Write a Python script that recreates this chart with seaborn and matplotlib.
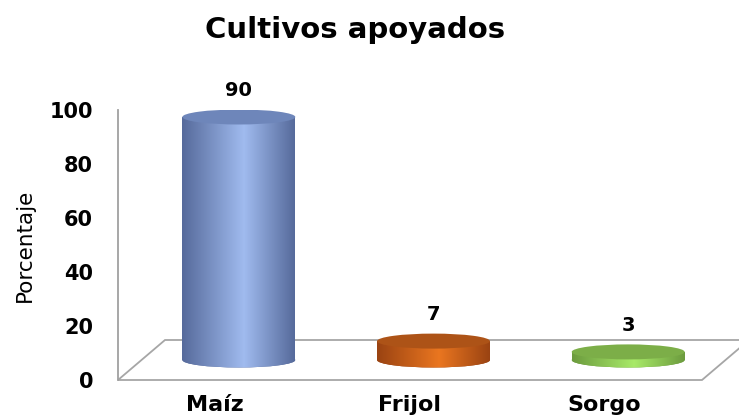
# Cultivos apoyados - cylinder style bar chart
import numpy as np
import matplotlib
matplotlib.use("Agg")
import matplotlib.pyplot as plt
import seaborn as sns
from matplotlib.patches import Ellipse, Polygon
from matplotlib.colors import LinearSegmentedColormap

crops = ["Maíz", "Frijol", "Sorgo"]
percent = [90, 7, 3]
side_dark = ["#566a9b", "#9a4312", "#6c9b3e"]
side_light = ["#a0bbef", "#ea7620", "#a8ea68"]
top_color = ["#6e86ba", "#ad5317", "#7cae48"]

sns.set_theme(style="white")
plt.rcParams["font.family"] = ["DejaVu Sans"]

fig = plt.figure(figsize=(7.39, 4.17), dpi=100)
ax = fig.add_axes([118 / 739, 37 / 417, 584 / 739, 270 / 417])

sns.barplot(x=crops, y=percent, hue=crops, palette=side_dark, width=0.58,
            saturation=1, legend=False, ax=ax)
bars = sorted(ax.patches[:], key=lambda r: r.get_x())

# pseudo 3D: bars stand in the middle of a floor seen in perspective
px_x = 584 / 3.0      # pixels per category unit
px_y = 270 / 100.0    # pixels per percent
dxu = 23.5 / px_x
base = 20 / px_y
eh = 15 / px_y

floor = Polygon([(-0.5, 0), (2.5, 0), (2.5 + 2 * dxu, 2 * base),
                 (-0.5 + 2 * dxu, 2 * base)], closed=True, facecolor="white",
                edgecolor="#a6a6a6", lw=1.3, clip_on=False, zorder=0.5)
ax.add_patch(floor)

grad = np.linspace(0, 1, 256).reshape(1, -1)
for i, p in enumerate(bars):
    cmap = LinearSegmentedColormap.from_list(
        "cyl%d" % i, [(0, side_dark[i]), (0.55, side_light[i]), (1, side_dark[i])])
    x0 = p.get_x() + dxu
    w = p.get_width()
    h = p.get_height()
    p.set_x(x0)
    p.set_y(base)
    p.set_edgecolor("none")
    p.set_linewidth(0)
    p.set_zorder(3)
    cx = x0 + w / 2

    bot = Ellipse((cx, base), w, eh, facecolor=side_dark[i], edgecolor="none", zorder=2)
    ax.add_patch(bot)
    im = ax.imshow(grad, extent=[x0, x0 + w, base - eh, base + eh], aspect="auto",
                   cmap=cmap, zorder=2.5)
    im.set_clip_path(bot)

    im2 = ax.imshow(grad, extent=[x0, x0 + w, base, base + h], aspect="auto",
                    cmap=cmap, zorder=3.5)
    im2.set_clip_path(p)

    top = Ellipse((cx, base + h), w, eh, facecolor=top_color[i], edgecolor="none", zorder=4)
    ax.add_patch(top)

    ax.annotate(str(percent[i]), (cx, base + h), xytext=(0, 19), textcoords="offset points",
                ha="center", va="center", fontsize=14, fontweight="bold", color="black")

ax.set_xlim(-0.5, 2.5)
ax.set_ylim(0, 100)
ax.set_yticks(range(0, 101, 20))
ax.set_xticks(range(len(crops)))
ax.set_xticklabels(crops)
ax.tick_params(axis="y", length=0, pad=18, labelsize=15)
ax.tick_params(axis="x", length=0, pad=11, labelsize=16)
for lab in ax.get_xticklabels() + ax.get_yticklabels():
    lab.set_fontweight("bold")
    lab.set_color("black")
ax.set_xlabel("")
ax.set_ylabel("")

sns.despine(ax=ax, bottom=True)
ax.spines["left"].set_color("#a0a0a0")
ax.spines["left"].set_linewidth(1.3)

fig.text(25 / 739, 1 - 245 / 417, "Porcentaje", rotation=90, ha="center", va="center",
         fontsize=15.5, color="black")
fig.text(355 / 739, 1 - 30 / 417, "Cultivos apoyados", ha="center", va="center",
         fontsize=21, fontweight="bold", color="black")

fig.savefig("out.png", dpi=100)
